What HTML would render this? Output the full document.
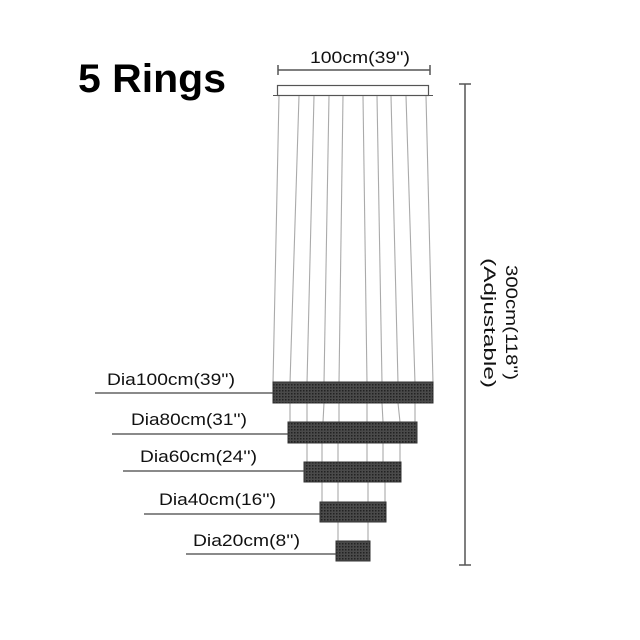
<!DOCTYPE html>
<html><head><meta charset="utf-8"><style>
html,body{margin:0;padding:0;background:#fff;}
svg{display:block;}
</style></head><body>
<svg width="640" height="640" viewBox="0 0 640 640" xmlns="http://www.w3.org/2000/svg">
<defs>
<pattern id="g" width="3" height="3" patternUnits="userSpaceOnUse">
<rect width="3" height="3" fill="#4a4a4a"/>
<rect width="1.5" height="1.5" fill="#222"/>
</pattern>
</defs>
<text x="78" y="92" font-family="Liberation Sans, sans-serif" font-weight="bold" font-size="40" fill="#000" textLength="148" lengthAdjust="spacingAndGlyphs">5 Rings</text>
<g stroke="#555" stroke-width="1.5">
<line x1="278" y1="70" x2="430" y2="70"/>
<line x1="278" y1="65" x2="278" y2="75"/>
<line x1="430" y1="65" x2="430" y2="75"/>
</g>
<text x="310" y="63" font-family="Liberation Sans, sans-serif" font-size="17" fill="#111" textLength="100" lengthAdjust="spacingAndGlyphs">100cm(39'')</text>
<rect x="277.5" y="85.5" width="151" height="10" fill="#fff" stroke="#555" stroke-width="1.2"/>
<line x1="273" y1="95.5" x2="433" y2="95.5" stroke="#555" stroke-width="1"/>
<g stroke="#aaa" stroke-width="1.1">
<line x1="279" y1="96" x2="273" y2="383"/>
<line x1="299" y1="96" x2="290" y2="383"/>
<line x1="314" y1="96" x2="307" y2="383"/>
<line x1="329" y1="96" x2="324" y2="383"/>
<line x1="343" y1="96" x2="339" y2="383"/>
<line x1="363" y1="96" x2="367" y2="383"/>
<line x1="377" y1="96" x2="382" y2="383"/>
<line x1="391" y1="96" x2="398" y2="383"/>
<line x1="406" y1="96" x2="415" y2="383"/>
<line x1="426" y1="96" x2="433" y2="383"/>
<line x1="290" y1="403" x2="290" y2="422"/>
<line x1="307" y1="403" x2="307" y2="422"/>
<line x1="324" y1="403" x2="323" y2="422"/>
<line x1="339" y1="403" x2="339" y2="422"/>
<line x1="367" y1="403" x2="367" y2="422"/>
<line x1="382" y1="403" x2="383" y2="422"/>
<line x1="398" y1="403" x2="400" y2="422"/>
<line x1="415" y1="403" x2="415" y2="422"/>
<line x1="307" y1="443" x2="307" y2="462"/>
<line x1="322" y1="443" x2="322" y2="462"/>
<line x1="338" y1="443" x2="338" y2="462"/>
<line x1="367" y1="443" x2="367" y2="462"/>
<line x1="383" y1="443" x2="383" y2="462"/>
<line x1="400" y1="443" x2="400" y2="462"/>
<line x1="322" y1="482" x2="322" y2="502"/>
<line x1="338" y1="482" x2="338" y2="502"/>
<line x1="368" y1="482" x2="368" y2="502"/>
<line x1="385" y1="482" x2="385" y2="502"/>
<line x1="338" y1="522" x2="338" y2="541"/>
<line x1="368" y1="522" x2="368" y2="541"/>
</g>
<g stroke="#333" stroke-width="1">
<rect x="273" y="382" width="160" height="21" fill="url(#g)"/>
<rect x="288" y="422" width="129" height="21" fill="url(#g)"/>
<rect x="304" y="462" width="97" height="20" fill="url(#g)"/>
<rect x="320" y="502" width="66" height="20" fill="url(#g)"/>
<rect x="336" y="541" width="34" height="20" fill="url(#g)"/>
</g>
<g stroke="#444" stroke-width="1.3">
<line x1="95" y1="393" x2="273" y2="393"/>
<line x1="112" y1="434" x2="288" y2="434"/>
<line x1="123" y1="471" x2="304" y2="471"/>
<line x1="144" y1="514" x2="320" y2="514"/>
<line x1="186" y1="554" x2="336" y2="554"/>
</g>
<g font-family="Liberation Sans, sans-serif" font-size="17" fill="#111" lengthAdjust="spacingAndGlyphs">
<text x="107" y="385" textLength="128" lengthAdjust="spacingAndGlyphs">Dia100cm(39'')</text>
<text x="131" y="425" textLength="116" lengthAdjust="spacingAndGlyphs">Dia80cm(31'')</text>
<text x="140" y="462" textLength="117" lengthAdjust="spacingAndGlyphs">Dia60cm(24'')</text>
<text x="159" y="505" textLength="117" lengthAdjust="spacingAndGlyphs">Dia40cm(16'')</text>
<text x="193" y="546" textLength="107" lengthAdjust="spacingAndGlyphs">Dia20cm(8'')</text>
</g>
<g stroke="#555" stroke-width="1.5">
<line x1="465" y1="84" x2="465" y2="565"/>
<line x1="459" y1="84" x2="471" y2="84"/>
<line x1="459" y1="565" x2="471" y2="565"/>
</g>
<g font-family="Liberation Sans, sans-serif" font-size="17" fill="#111">
<text transform="translate(506,265) rotate(90)" textLength="115" lengthAdjust="spacingAndGlyphs">300cm(118'')</text>
<text transform="translate(484,258) rotate(90)" textLength="130" lengthAdjust="spacingAndGlyphs">(Adjustable)</text>
</g>
</svg>
</body></html>
